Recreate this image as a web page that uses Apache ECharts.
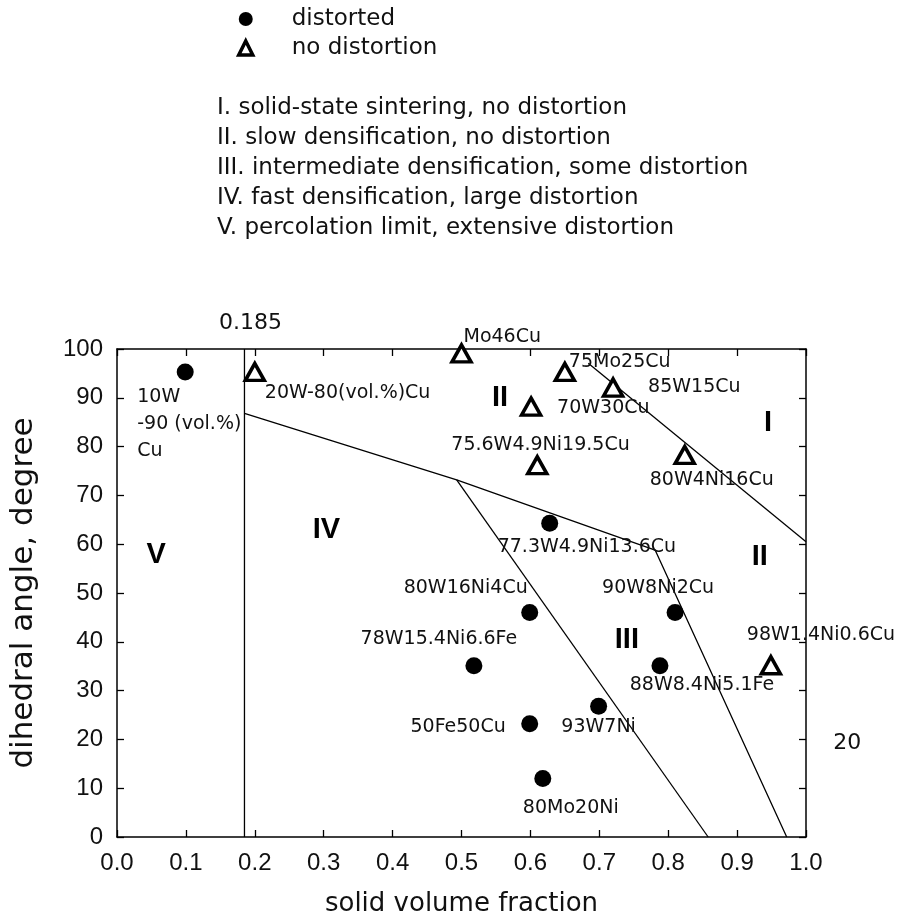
<!DOCTYPE html>
<html>
<head>
<meta charset="utf-8">
<script src="https://cdn.jsdelivr.net/npm/echarts@6/dist/echarts.min.js"></script>
<style>
html,body{margin:0;padding:0;background:#fff;}
#chart{width:910px;height:921px;}
</style>
</head>
<body>
<div id="chart"></div>
<script>
// ---------- data ----------
const distortedNames = ['10W\n-90 (vol.%)\nCu','77.3W4.9Ni13.6Cu','80W16Ni4Cu','90W8Ni2Cu','78W15.4Ni6.6Fe','88W8.4Ni5.1Fe','93W7Ni','50Fe50Cu','80Mo20Ni'];
const distortedX = [0.099,0.628,0.599,0.810,0.518,0.788,0.699,0.599,0.618];
const distortedY = [95.3,64.3,46.0,46.0,35.1,35.1,26.8,23.2,12.0];

const noDistNames = ['20W-80(vol.%)Cu','Mo46Cu','75Mo25Cu','85W15Cu','70W30Cu','75.6W4.9Ni19.5Cu','80W4Ni16Cu','98W1.4Ni0.6Cu'];
const noDistX = [0.200,0.500,0.650,0.720,0.601,0.610,0.824,0.949];
const noDistY = [95.3,99.1,95.3,92.1,88.2,76.2,78.3,35.2];

const percolationLine = [[0.185,0],[0.185,100]];
const upperBoundary = [[0.185,86.8],[0.493,73.2],[0.781,58.8],[0.972,0]];
const lowerBoundary = [[0.493,73.2],[0.858,0]];
const solidStateBoundary = [[0.684,97.1],[1.0,60.5]];

const regionNames = ['V','IV','III','II','II','I'];
const regionX = [0.057,0.304,0.740,0.933,0.556,0.945];
const regionY = [57.8,62.9,40.4,57.4,90.0,84.8];

const regionLegend = [
  'I. solid-state sintering, no distortion',
  'II. slow densification, no distortion',
  'III. intermediate densification, some distortion',
  'IV. fast densification, large distortion',
  'V. percolation limit, extensive distortion'
];

const distortedLabelLayout = [
  {align:'left', verticalAlign:'top', offset:[-48,12]},
  {align:'left', offset:[-52,24]},
  {align:'right', offset:[-2,-24]},
  {align:'center', offset:[-17,-24]},
  {align:'center', offset:[-35,-27]},
  {align:'center', offset:[42,19]},
  {align:'center', offset:[0,21]},
  {align:'right', offset:[-24,3]},
  {align:'center', offset:[28,30]}
];
const noDistLabelLayout = [
  {align:'left', offset:[10,21]},
  {align:'left', offset:[2,-16]},
  {align:'left', offset:[4,-10]},
  {align:'left', offset:[35,0]},
  {align:'left', offset:[26,1]},
  {align:'left', offset:[-86,-20]},
  {align:'left', offset:[-35,25]},
  {align:'left', offset:[-24,-30]}
];

const LABEL_FONT = 'DejaVu Sans';
const AXIS_FONT = 'Liberation Sans, Arial, sans-serif';
const INK = '#000';

function pointData(names, xs, ys, layouts) {
  return names.map((n, i) => ({
    name: n, value: [xs[i], ys[i]],
    label: Object.assign({
      show: true, position: 'inside', verticalAlign: 'middle',
      formatter: '{b}', color: '#111', fontFamily: LABEL_FONT, fontSize: 19, lineHeight: 27
    }, layouts[i])
  }));
}

const chart = echarts.init(document.getElementById('chart'), null, {renderer: 'canvas'});
const lineStyle = {color: INK, width: 1.3, opacity: 1};
function boundary(name, data) {
  return {name: name, type: 'line', data: data, symbol: 'none', silent: true,
    lineStyle: lineStyle, z: 2, legendHoverLink: false};
}

const option = {
  backgroundColor: '#fff',
  animation: false,
  grid: {left: 117, top: 349, right: 104, bottom: 84, containLabel: false, outerBoundsMode: 'none'},
  legend: {
    data: ['distorted', {name: 'no distortion', itemStyle: {borderWidth: 3.5}}],
    orient: 'vertical', left: 232, top: 2,
    itemWidth: 14, itemHeight: 14, itemGap: 5, selectedMode: false,
    textStyle: {fontFamily: LABEL_FONT, fontSize: 23, color: '#111', padding: [0,0,0,34], lineHeight: 24}
  },
  xAxis: [{
    type: 'value', min: 0, max: 1, interval: 0.1, position: 'bottom',
    name: 'solid volume fraction', nameLocation: 'middle', nameGap: 54,
    nameTextStyle: {fontFamily: LABEL_FONT, fontSize: 26, color: '#111'},
    axisLine: {show: true, onZero: false, lineStyle: {color: INK, width: 1.5}},
    axisTick: {show: true, inside: true, length: 7, lineStyle: {color: INK, width: 1.3}},
    axisLabel: {show: true, margin: 14, fontFamily: AXIS_FONT, fontSize: 24, color: '#111',
      formatter: v => v.toFixed(1)},
    splitLine: {show: false}
  }, {
    type: 'value', min: 0, max: 1, interval: 0.1, position: 'top',
    axisLine: {show: true, onZero: false, lineStyle: {color: INK, width: 1.5}},
    axisTick: {show: true, inside: true, length: 7, lineStyle: {color: INK, width: 1.3}},
    axisLabel: {show: false}, splitLine: {show: false}
  }],
  yAxis: [{
    type: 'value', min: 0, max: 100, interval: 10, position: 'left',
    name: 'dihedral angle, degree', nameLocation: 'middle', nameGap: 78, nameRotate: 90,
    nameTextStyle: {fontFamily: LABEL_FONT, fontSize: 31, color: '#111'},
    axisLine: {show: true, onZero: false, lineStyle: {color: INK, width: 1.5}},
    axisTick: {show: true, inside: true, length: 7, lineStyle: {color: INK, width: 1.3}},
    axisLabel: {show: true, margin: 14, fontFamily: AXIS_FONT, fontSize: 24, color: '#111'},
    splitLine: {show: false}
  }, {
    type: 'value', min: 0, max: 100, interval: 10, position: 'right',
    axisLine: {show: true, onZero: false, lineStyle: {color: INK, width: 1.5}},
    axisTick: {show: true, inside: true, length: 7, lineStyle: {color: INK, width: 1.3}},
    axisLabel: {show: false}, splitLine: {show: false}
  }],
  graphic: [{
    type: 'text', left: 217, top: 93,
    style: {text: regionLegend.join('\n'), font: '23px "DejaVu Sans"', fill: '#111', lineHeight: 30}
  }],
  series: [
    boundary('percolation', percolationLine),
    boundary('upper', upperBoundary),
    boundary('lower', lowerBoundary),
    boundary('solid', solidStateBoundary),
    {name: 'distorted', type: 'scatter', symbol: 'circle', symbolSize: 17,
      itemStyle: {color: INK, opacity: 1}, z: 5,
      data: pointData(distortedNames, distortedX, distortedY, distortedLabelLayout)},
    {name: 'no distortion', type: 'scatter', symbol: 'triangle', symbolSize: [19, 17],
      itemStyle: {color: '#fff', borderColor: INK, borderWidth: 3.5, opacity: 1}, z: 5,
      data: pointData(noDistNames, noDistX, noDistY, noDistLabelLayout)},
    {name: 'regions', type: 'scatter', symbolSize: 0, silent: true, z: 4, itemStyle: {opacity: 1},
      data: regionNames.map((n, i) => ({name: n, value: [regionX[i], regionY[i]]})),
      label: {show: true, position: 'inside', formatter: '{b}', fontFamily: AXIS_FONT,
        fontWeight: 'bold', fontSize: 29, color: INK}},
    {name: 'annotations', type: 'scatter', symbolSize: 0, silent: true, clip: false, itemStyle: {opacity: 1},
      data: [
        {name: '0.185', value: [0.185, 100], label: {offset: [6, -26]}},
        {name: '20', value: [1.06, 19.3]}
      ],
      label: {show: true, position: 'inside', formatter: '{b}', fontFamily: LABEL_FONT, fontSize: 22, color: '#111'}}
  ]
};
chart.setOption(option);
</script>
</body>
</html>
